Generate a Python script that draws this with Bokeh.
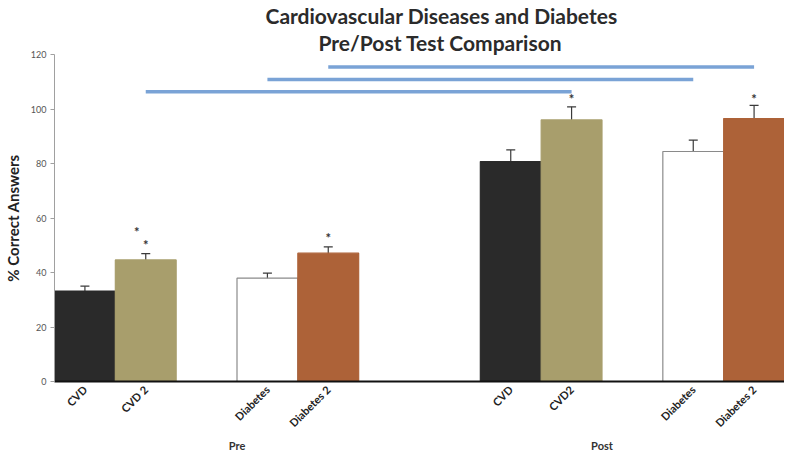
from bokeh.plotting import figure
from bokeh.models import (Range1d, ColumnDataSource, Whisker, TeeHead,
                          FixedTicker, LinearAxis, Title)
from bokeh.core.properties import value
from bokeh.embed import file_html
from bokeh.resources import INLINE
import math

# ---- data ----
title_lines = ["Cardiovascular Diseases and Diabetes", "Pre/Post Test Comparison"]

slot_groups = ["Pre", "Pre", "Pre", "Pre", "Pre", "Pre",
               "Post", "Post", "Post", "Post", "Post", "Post"]
slot_labels = ["CVD", "CVD 2", "", "Diabetes", "Diabetes 2", "",
               "", "CVD", "CVD2", "", "Diabetes", "Diabetes 2"]
group_names = ["Pre", "Post"]

bar_groups = ["Pre", "Pre", "Pre", "Pre", "Post", "Post", "Post", "Post"]
bar_items = ["CVD", "CVD 2", "Diabetes", "Diabetes 2", "CVD", "CVD2", "Diabetes", "Diabetes 2"]
scores = [33.2, 44.6, 37.9, 47.1, 80.7, 96.0, 84.4, 96.5]
errors = [1.8, 2.3, 1.9, 2.3, 4.3, 4.8, 4.2, 4.8]
bar_colors = ["#2a2a2a", "#a89e6c", "#ffffff", "#ad6238",
              "#2a2a2a", "#a89e6c", "#ffffff", "#ad6238"]
bar_lines = ["#2a2a2a", "#a89e6c", "#8a8a8a", "#ad6238",
             "#2a2a2a", "#a89e6c", "#8a8a8a", "#ad6238"]

star_groups = ["Pre", "Pre", "Pre", "Post", "Post"]
star_items = ["CVD 2", "CVD 2", "Diabetes 2", "CVD2", "Diabetes 2"]
star_y = [55.0, 50.2, 52.6, 103.6, 103.6]
star_dx = [-9, 0, 0, 0, 0]

sig_from = [("Pre", "CVD 2"), ("Pre", "Diabetes"), ("Pre", "Diabetes 2")]
sig_to = [("Post", "CVD2"), ("Post", "Diabetes"), ("Post", "Diabetes 2")]
sig_y = [106.3, 110.8, 115.4]

y_ticks = [0, 20, 40, 60, 80, 100, 120]

# slot positions (centre of each category slot on a linear axis)
slot_key = list(zip(slot_groups, slot_labels))
def pos(g, it):
    return slot_key.index((g, it)) + 0.5

bar_x = [pos(g, it) for g, it in zip(bar_groups, bar_items)]
star_x = [pos(g, it) for g, it in zip(star_groups, star_items)]
sig_x0 = [pos(*k) for k in sig_from]
sig_x1 = [pos(*k) for k in sig_to]
tick_pos = [i + 0.5 for i, lab in enumerate(slot_labels) if lab]
tick_lab = {i + 0.5: lab for i, lab in enumerate(slot_labels) if lab}
grp_pos = {}
for g in group_names:
    idx = [i + 0.5 for i, gg in enumerate(slot_groups) if gg == g]
    grp_pos[g] = sum(idx) / len(idx)
grp_ticks = [grp_pos[g] for g in group_names]
grp_lab = {grp_pos[g]: g for g in group_names}

p = figure(width=784, height=454, output_backend="svg", toolbar_location=None,
           x_range=Range1d(0, len(slot_labels)), y_range=Range1d(0, y_ticks[-1]),
           min_border_left=44, min_border_right=0, min_border_top=0, min_border_bottom=0)

def style_title(t, off):
    t.align = "left"
    t.offset = off
    t.text_font = "Lato"
    t.text_font_size = "21px"
    t.text_font_style = "bold"
    t.text_color = "#2b2b2b"
    t.text_line_height = 1.0
    t.standoff = 0

p.title.text = title_lines[0]
style_title(p.title, 211)
sub = Title(text=title_lines[1])
style_title(sub, 264)
p.add_layout(sub, "above")

src = ColumnDataSource(dict(
    x=bar_x, top=scores, fill=bar_colors, line=bar_lines,
    upper=[s + e for s, e in zip(scores, errors)],
    lower=[s - e for s, e in zip(scores, errors)],
))
p.vbar(x="x", top="top", width=1.0, source=src, fill_color="fill", line_color="line", line_width=1.2)

w = Whisker(base="x", upper="upper", lower="lower", source=src,
            line_color="#3a3a3a", line_width=1.2,
            upper_head=TeeHead(size=9, line_color="#3a3a3a", line_width=1.2),
            lower_head=TeeHead(size=9, line_color="#3a3a3a", line_width=1.2))
p.add_layout(w)

star_src = ColumnDataSource(dict(x=star_x, y=star_y, dx=star_dx, t=["*"] * len(star_y)))
p.text(x="x", y="y", text="t", x_offset="dx", source=star_src, text_align="center",
       text_baseline="middle", text_font_size="13px", text_color="#333333",
       text_font=value("Lato"), text_font_style="bold")

p.segment(x0=sig_x0, y0=sig_y, x1=sig_x1, y1=sig_y, line_color="#7aa3d6", line_width=3.5)

# y axis
p.yaxis.ticker = FixedTicker(ticks=y_ticks)
p.yaxis.minor_tick_line_color = None
p.yaxis.axis_line_color = "#a0a0a0"
p.yaxis.major_tick_line_color = "#a0a0a0"
p.yaxis.major_tick_out = 4
p.yaxis.major_tick_in = 0
p.yaxis.major_label_text_font = "Lato"
p.yaxis.major_label_text_font_size = "9px"
p.yaxis.major_label_text_color = "#555555"
p.yaxis.major_label_standoff = 4
p.yaxis.axis_label = "% Correct Answers"
p.yaxis.axis_label_text_font = "Lato"
p.yaxis.axis_label_text_font_size = "15px"
p.yaxis.axis_label_text_font_style = "bold"
p.yaxis.axis_label_text_color = "#222222"
p.yaxis.axis_label_standoff = 6

# x axis (item labels)
p.xaxis.ticker = FixedTicker(ticks=tick_pos)
p.xaxis.major_label_overrides = tick_lab
p.xaxis.axis_line_color = "#111111"
p.xaxis.axis_line_width = 2
p.xaxis.major_tick_line_color = None
p.xaxis.major_tick_out = 0
p.xaxis.major_tick_in = 0
p.xaxis.minor_tick_line_color = None
p.xaxis.major_label_orientation = math.pi / 4
p.xaxis.major_label_text_font = "Lato"
p.xaxis.major_label_text_font_size = "11px"
p.xaxis.major_label_text_font_style = "bold"
p.xaxis.major_label_text_color = "#222222"
p.xaxis.major_label_standoff = 6

# group axis (Pre / Post)
gax = LinearAxis(ticker=FixedTicker(ticks=grp_ticks), major_label_overrides=grp_lab)
gax.axis_line_color = None
gax.major_tick_line_color = None
gax.major_tick_out = 0
gax.major_tick_in = 0
gax.minor_tick_line_color = None
gax.major_label_text_font = "Lato"
gax.major_label_text_font_size = "11px"
gax.major_label_text_font_style = "bold"
gax.major_label_text_color = "#333333"
gax.major_label_standoff = 2
p.add_layout(gax, "below")

p.xgrid.grid_line_color = None
p.ygrid.grid_line_color = None
p.outline_line_color = None

open("out.html", "w").write(file_html(p, INLINE))
